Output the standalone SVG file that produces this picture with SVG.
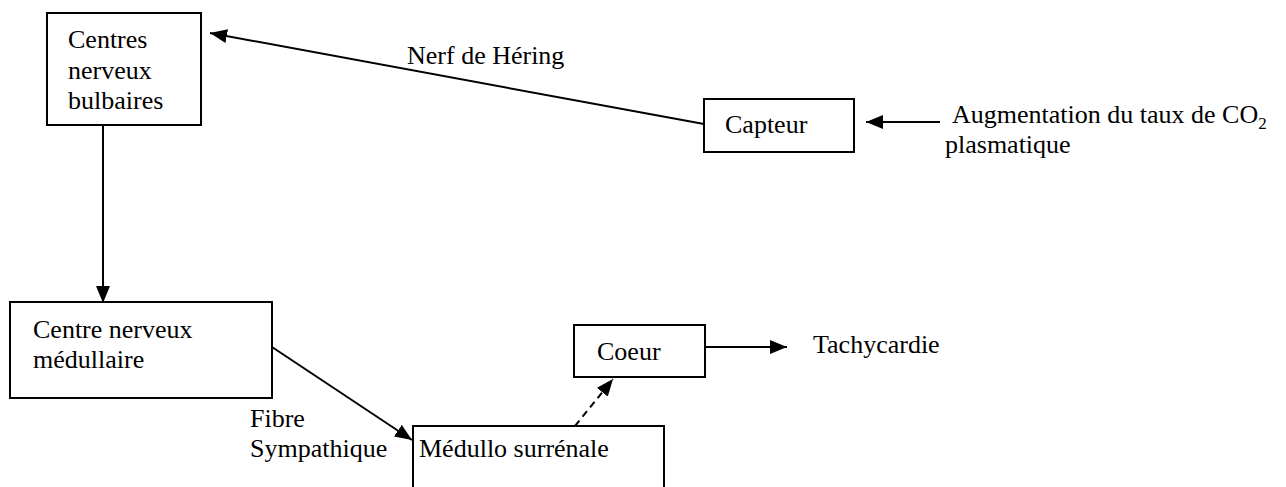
<svg xmlns="http://www.w3.org/2000/svg" width="1286" height="487" viewBox="0 0 1286 487">
<style>
.box{fill:#fff;stroke:#000;stroke-width:2}
.t{font-family:"Liberation Serif","Times New Roman",serif;font-size:26px;fill:#000}
.c{stroke:#000;stroke-width:2;fill:none}
</style>
<defs>
<marker id="ah2" markerWidth="17" markerHeight="14" refX="17" refY="7" orient="auto" markerUnits="userSpaceOnUse" viewBox="0 0 17 14">
<path d="M0,0 L17,7 L0,14 Z" fill="#000"/>
</marker>
</defs>
<rect width="1286" height="487" fill="#fff"/>
<g id="connectors">
<line class="c" x1="704" y1="124" x2="210" y2="33" marker-end="url(#ah2)"/>
<line class="c" x1="940" y1="122" x2="866" y2="122" marker-end="url(#ah2)"/>
<line class="c" x1="103" y1="125" x2="103" y2="303" marker-end="url(#ah2)"/>
<line class="c" x1="272" y1="347" x2="412" y2="440" marker-end="url(#ah2)"/>
<line class="c" x1="575" y1="426" x2="613" y2="379" stroke-dasharray="7,5" marker-end="url(#ah2)"/>
<line class="c" x1="705" y1="347" x2="787" y2="347" marker-end="url(#ah2)"/>
</g>
<g id="n-centres-bulbaires">
<rect class="box" x="47" y="13" width="154" height="112"/>
<text class="t" x="68" y="48">Centres</text>
<text class="t" x="68" y="79">nerveux</text>
<text class="t" x="68" y="109">bulbaires</text>
</g>
<g id="n-capteur">
<rect class="box" x="704" y="99" width="150" height="53"/>
<text class="t" x="725" y="133">Capteur</text>
</g>
<g id="n-stimulus">
<text class="t" x="952" y="123">Augmentation du taux de CO<tspan font-size="17" dy="6">2</tspan></text>
<text class="t" x="945" y="153">plasmatique</text>
</g>
<g id="l-hering">
<text class="t" x="407" y="64">Nerf de Héring</text>
</g>
<g id="n-centre-medullaire">
<rect class="box" x="10" y="302" width="262" height="96"/>
<text class="t" x="33" y="338">Centre nerveux</text>
<text class="t" x="33" y="368">médullaire</text>
</g>
<g id="l-fibre">
<text class="t" x="250" y="427">Fibre</text>
<text class="t" x="250" y="457">Sympathique</text>
</g>
<g id="n-medullo">
<rect class="box" x="413" y="426" width="251" height="70"/>
<text class="t" x="419" y="457">Médullo surrénale</text>
</g>
<g id="n-coeur">
<rect class="box" x="574" y="325" width="131" height="52"/>
<text class="t" x="597" y="360">Coeur</text>
</g>
<g id="n-tachycardie">
<text class="t" x="813" y="353">Tachycardie</text>
</g>
</svg>
